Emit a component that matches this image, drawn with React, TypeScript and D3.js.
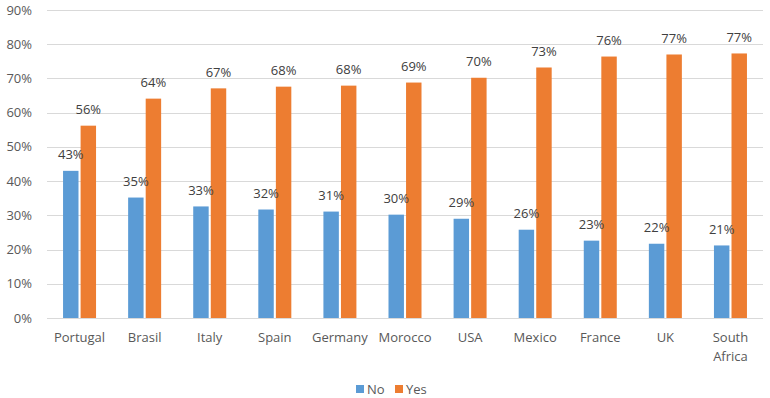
import React, { useEffect, useRef } from "react";
import * as d3 from "d3";

const countries = ["Portugal", "Brasil", "Italy", "Spain", "Germany", "Morocco", "USA", "Mexico", "France", "UK", "South Africa"];
const noValues = [43.0, 35.2, 32.6, 31.7, 31.1, 30.2, 29.0, 25.8, 22.6, 21.7, 21.2];
const yesValues = [56.2, 64.1, 67.1, 67.6, 67.9, 68.8, 70.2, 73.2, 76.4, 77.0, 77.3];
const seriesNames = ["No", "Yes"];
const seriesColors = ["#5b9bd5", "#ed7d31"];
const yTicks = [0, 10, 20, 30, 40, 50, 60, 70, 80, 90];

export default function App() {
  const svgRef = useRef<SVGSVGElement | null>(null);

  useEffect(() => {
    const width = 770;
    const height = 398;
    const margin = { top: 10, right: 7, bottom: 80, left: 47 };

    const svg = d3.select(svgRef.current);
    svg.selectAll("*").remove();
    svg
      .attr("width", width)
      .attr("height", height)
      .style("font-family", "'Open Sans', sans-serif");

    const y = d3
      .scaleLinear()
      .domain([0, 90])
      .range([height - margin.bottom, margin.top]);

    const x0 = d3
      .scaleBand()
      .domain(countries)
      .range([margin.left, width - margin.right]);

    const groupW = 33;
    const x1 = d3
      .scaleBand()
      .domain(seriesNames)
      .range([0, groupW])
      .paddingInner(0.12);

    // gridlines
    svg
      .append("g")
      .selectAll("line")
      .data(yTicks)
      .enter()
      .append("line")
      .attr("x1", margin.left)
      .attr("x2", width - margin.right)
      .attr("y1", (d) => Math.round(y(d)) + 0.5)
      .attr("y2", (d) => Math.round(y(d)) + 0.5)
      .attr("stroke", "#d9d9d9")
      .attr("stroke-width", 1);

    // y tick labels
    svg
      .append("g")
      .selectAll("text")
      .data(yTicks)
      .enter()
      .append("text")
      .attr("x", 32)
      .attr("y", (d) => y(d))
      .attr("dy", "0.35em")
      .attr("text-anchor", "end")
      .style("font-size", "13px")
      .style("fill", "#595959")
      .text((d) => `${d}%`);

    const rows = countries.map((c, i) => ({
      country: c,
      values: [noValues[i], yesValues[i]],
    }));

    const groups = svg
      .append("g")
      .selectAll("g")
      .data(rows)
      .enter()
      .append("g")
      .attr("transform", (d) => `translate(${x0(d.country)! + (x0.bandwidth() - groupW) / 2},0)`);

    groups
      .selectAll("rect")
      .data((d) => d.values.map((v, k) => ({ key: seriesNames[k], v, k })))
      .enter()
      .append("rect")
      .attr("x", (d) => x1(d.key)!)
      .attr("width", x1.bandwidth())
      .attr("y", (d) => y(d.v))
      .attr("height", (d) => y(0) - y(d.v))
      .attr("fill", (d) => seriesColors[d.k]);

    groups
      .selectAll("text")
      .data((d) => d.values.map((v, k) => ({ key: seriesNames[k], v, k })))
      .enter()
      .append("text")
      .attr("x", (d) => x1(d.key)! + x1.bandwidth() / 2)
      .attr("y", (d) => y(d.v) - 16)
      .attr("dy", "0.35em")
      .attr("text-anchor", "middle")
      .style("font-size", "13px")
      .style("fill", "#404040")
      .text((d) => `${Math.round(d.v)}%`);

    // category labels
    const xl = svg
      .append("g")
      .selectAll("text")
      .data(countries)
      .enter()
      .append("text")
      .attr("y", 337)
      .attr("text-anchor", "middle")
      .style("font-size", "13px")
      .style("fill", "#595959");

    xl.each(function (d) {
      const t = d3.select(this);
      d.split(" ").forEach((w, i) => {
        t.append("tspan")
          .attr("x", x0(d)! + x0.bandwidth() / 2)
          .attr("dy", i === 0 ? "0.35em" : "19px")
          .text(w);
      });
    });

    // legend
    const legend = svg.append("g");
    const legendX = [356, 395];
    seriesNames.forEach((name, i) => {
      legend
        .append("rect")
        .attr("x", legendX[i])
        .attr("y", 385)
        .attr("width", 8)
        .attr("height", 8)
        .attr("fill", seriesColors[i]);
      legend
        .append("text")
        .attr("x", legendX[i] + 11)
        .attr("y", 389)
        .attr("dy", "0.35em")
        .style("font-size", "13px")
        .style("fill", "#595959")
        .text(name);
    });
  }, []);

  return (
    <div style={{ position: "absolute", left: 0, top: 0 }}>
      <svg ref={svgRef} />
    </div>
  );
}
